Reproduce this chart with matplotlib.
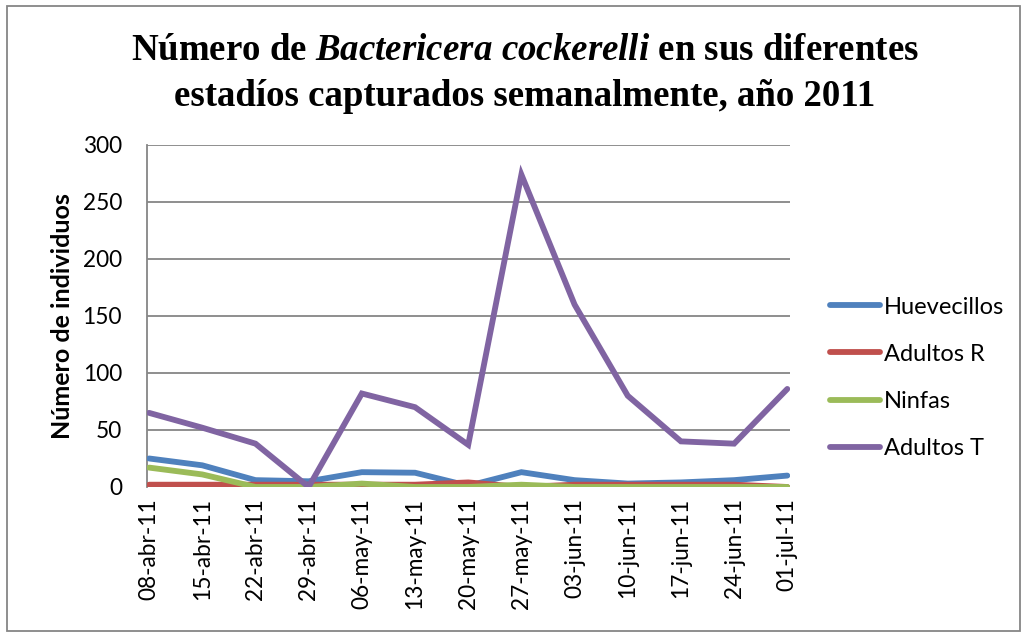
import matplotlib
matplotlib.use("Agg")
import matplotlib.pyplot as plt
from matplotlib.patches import Rectangle

fechas = ['08-abr-11', '15-abr-11', '22-abr-11', '29-abr-11', '06-may-11', '13-may-11',
          '20-may-11', '27-may-11', '03-jun-11', '10-jun-11', '17-jun-11', '24-jun-11', '01-jul-11']
huevecillos = [25, 19, 6, 5, 13, 12.5, 1, 13, 6, 3, 4, 6, 10]
adultos_r = [2, 2, 2, 2, 2, 2, 4, 0, 2, 2, 2, 2, 0]
ninfas = [17, 11, 0, 0, 3, 0, 0, 2, 0, 0, 0, 0, 0]
adultos_t = [65, 52, 38, 0, 82, 70, 37, 274, 160, 80, 40, 38, 86]

series = [('Huevecillos', huevecillos, '#4F81BD'),
          ('Adultos R', adultos_r, '#C0504D'),
          ('Ninfas', ninfas, '#9BBB59'),
          ('Adultos T', adultos_t, '#8064A2')]

plt.rcParams['mathtext.fontset'] = 'custom'
plt.rcParams['mathtext.it'] = 'Liberation Serif:italic:bold'
plt.rcParams['mathtext.rm'] = 'Liberation Serif:bold'

fig = plt.figure(figsize=(10.25, 6.35), dpi=100)
ax = fig.add_axes([0.1434, 0.2331, 0.6273, 0.5386])

x = list(range(len(fechas)))
for nombre, vals, col in series:
    ax.plot(x, vals, color=col, lw=4.2, label=nombre, solid_capstyle='round',
            solid_joinstyle='miter', zorder=3)

ax.set_xlim(-0.04, 12.05)
ax.set_ylim(0, 300)
ax.set_yticks(range(0, 301, 50))
ax.set_xticks(x)
ax.set_xticklabels(fechas, rotation=90, fontsize=16.3, family='Lato')
for t in ax.get_yticklabels():
    t.set_fontsize(16.3)
    t.set_family('Lato')
ax.tick_params(axis='x', length=0, pad=8)
ax.tick_params(axis='y', length=0, pad=18)
ax.grid(axis='y', color='#868686', lw=1.3)
ax.set_axisbelow(True)
for s in ['top', 'right', 'bottom']:
    ax.spines[s].set_visible(False)
ax.spines['left'].set_color('#868686')
ax.spines['left'].set_linewidth(1.3)
ax.set_ylabel('Número de individuos', fontsize=18, fontweight='bold', family='Lato', labelpad=6)

fig.legend(loc='center left', bbox_to_anchor=(0.789, 0.405), frameon=False,
           prop={'family': 'Lato', 'size': 17}, handlelength=2.1, handletextpad=0.2,
           labelspacing=1.11)

fig.text(0.512, 0.921, r'Número de $\mathit{Bactericera\ cockerelli}$ en sus diferentes',
         ha='center', va='center', fontsize=26.6, fontweight='bold', family='Liberation Serif')
fig.text(0.512, 0.848, 'estadíos capturados semanalmente, año 2011',
         ha='center', va='center', fontsize=26.6, fontweight='bold', family='Liberation Serif')

fig.patches.append(Rectangle((0.007, 0.006), 0.988, 0.985, transform=fig.transFigure,
                             fill=False, edgecolor='#868686', lw=1.3))

fig.savefig('out.png', dpi=100)
